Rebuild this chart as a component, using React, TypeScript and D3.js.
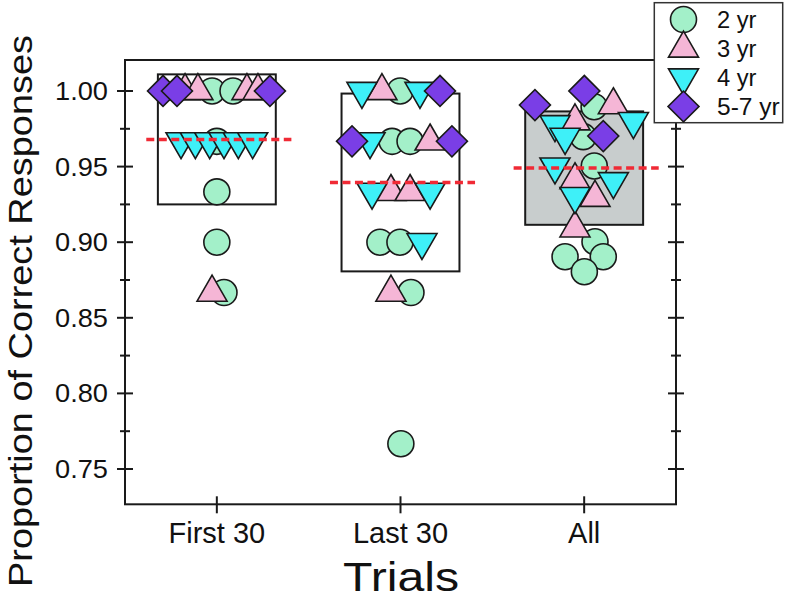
import React from "react";
import * as d3 from "d3";

const categories = ["First 30", "Last 30", "All"];
const boxMeans = [0.968, 0.9395, 0.949];
const boxSds = [0.043, 0.0588, 0.0375];

const yMajorTicks = [0.75, 0.8, 0.85, 0.9, 0.95, 1.0];
const yMinorTicks = [0.775, 0.825, 0.875, 0.925, 0.975];

const seriesNames = ["2 yr", "3 yr", "4 yr", "5-7 yr"];

// [x position on the category axis (1 = First 30, 2 = Last 30, 3 = All, with jitter), proportion]
const twoYr: [number, number][] = [
  [0.974, 1.0], [1.088, 1.0], [1.0, 0.9667], [1.0, 0.9333], [1.0, 0.9], [1.039, 0.8667],
  [1.998, 1.0], [1.954, 0.9667], [2.052, 0.9667], [1.888, 0.9], [1.997, 0.9], [2.057, 0.8667], [2.002, 0.7667],
  [3.054, 0.9896], [2.995, 0.9698], [3.055, 0.9504], [3.059, 0.9003], [2.896, 0.8904], [3.104, 0.8904], [3.001, 0.8805],
];
const threeYr: [number, number][] = [
  [0.827, 1.0], [0.897, 1.0], [1.164, 1.0], [1.224, 1.0], [0.974, 0.8667],
  [1.899, 1.0], [2.161, 0.9667], [1.948, 0.9333], [2.052, 0.9333], [1.948, 0.8667],
  [3.159, 0.9907], [2.95, 0.98], [2.95, 0.9411], [3.059, 0.9294], [2.95, 0.9092],
];
const fourYr: [number, number][] = [
  [0.805, 0.9667], [0.883, 0.9667], [0.961, 0.9667], [1.039, 0.9667], [1.117, 0.9667], [1.195, 0.9667],
  [1.79, 1.0], [2.106, 1.0], [1.834, 0.9667], [1.845, 0.9333], [2.161, 0.9333], [2.117, 0.9],
  [2.841, 0.978], [2.896, 0.9696], [3.268, 0.98], [2.841, 0.95], [3.159, 0.9403], [2.95, 0.9304],
];
const fiveSevenYr: [number, number][] = [
  [0.707, 1.0], [0.783, 1.0], [1.289, 1.0],
  [2.215, 1.0], [1.736, 0.9667], [2.28, 0.9667],
  [2.732, 0.9907], [3.001, 1.0], [3.104, 0.9702],
];

const W = 787;
const H = 598;
const left = 125, right = 676, top = 60, bottom = 504.3;

const x = d3.scaleLinear().domain([0.5, 3.5]).range([left, right]);
const y = d3.scaleLinear().domain([0.72665, 1.0205]).range([bottom, top]);

const STROKE = "#1a1a1a";
const colors = ["#a3f0c9", "#f5b6d6", "#3ef0f8", "#7a3ee6"];

const circlePath = d3.symbol().type(d3.symbolCircle).size(Math.PI * 13 * 13)()!;
const triPath = d3.symbol().type(d3.symbolTriangle).size(390)()!;
const squarePath = d3.symbol().type(d3.symbolSquare).size(480)()!;

function Marker({ kind, cx, cy }: { kind: number; cx: number; cy: number }) {
  const common = { fill: colors[kind], stroke: STROKE, strokeWidth: 1.6 };
  if (kind === 0) return <path d={circlePath} transform={`translate(${cx},${cy})`} {...common} />;
  if (kind === 1) return <path d={triPath} transform={`translate(${cx},${cy})`} {...common} />;
  if (kind === 2) return <path d={triPath} transform={`translate(${cx},${cy}) rotate(180)`} {...common} />;
  return <path d={squarePath} transform={`translate(${cx},${cy}) rotate(45)`} {...common} />;
}

const FONT = "'Liberation Sans', Arial, Helvetica, sans-serif";

export default function App() {
  const series = [twoYr, threeYr, fourYr, fiveSevenYr];
  const boxHalf = 0.321;
  const dashHalf = 0.395;
  return (
    <svg width={W} height={H} style={{ position: "absolute", left: 0, top: 0, background: "#fff" }} fontFamily={FONT}>
      <rect x={0} y={0} width={W} height={H} fill="#fff" />
      {/* boxes: mean ± SD */}
      {categories.map((c, i) => (
        <rect
          key={"box" + c}
          x={x(i + 1 - boxHalf)}
          y={y(boxMeans[i] + boxSds[i])}
          width={x(i + 1 + boxHalf) - x(i + 1 - boxHalf)}
          height={y(boxMeans[i] - boxSds[i]) - y(boxMeans[i] + boxSds[i])}
          fill={i === 2 ? "#c8cdcd" : "none"}
          stroke={STROKE}
          strokeWidth={2}
        />
      ))}
      {/* points */}
      {series.map((pts, k) =>
        pts.map((p, j) => <Marker key={`m${k}-${j}`} kind={k} cx={x(p[0])} cy={y(p[1])} />)
      )}
      {/* mean lines */}
      {categories.map((c, i) => (
        <line
          key={"mean" + c}
          x1={x(i + 1 - dashHalf) + 2}
          x2={x(i + 1 + dashHalf) + 2}
          y1={y(boxMeans[i])}
          y2={y(boxMeans[i])}
          stroke="#f02a35"
          strokeWidth={3.5}
          strokeDasharray="8 4.5"
        />
      ))}
      {/* frame */}
      <rect x={left} y={top} width={right - left} height={bottom - top} fill="none" stroke={STROKE} strokeWidth={2} />
      {/* y ticks left & right */}
      {yMajorTicks.map((t) => (
        <g key={"ymaj" + t}>
          <line x1={left - 8} x2={left + 8} y1={y(t)} y2={y(t)} stroke={STROKE} strokeWidth={2} />
          <line x1={right - 8} x2={right + 8} y1={y(t)} y2={y(t)} stroke={STROKE} strokeWidth={2} />
          <text x={108} y={y(t) + 9} textAnchor="end" fontSize={25} textLength={53} lengthAdjust="spacingAndGlyphs" fill="#111">
            {t.toFixed(2)}
          </text>
        </g>
      ))}
      {yMinorTicks.map((t) => (
        <g key={"ymin" + t}>
          <line x1={left - 5} x2={left + 5} y1={y(t)} y2={y(t)} stroke={STROKE} strokeWidth={2} />
          <line x1={right - 5} x2={right + 5} y1={y(t)} y2={y(t)} stroke={STROKE} strokeWidth={2} />
        </g>
      ))}
      {/* x ticks */}
      {categories.map((c, i) => (
        <g key={"xt" + c}>
          <line x1={x(i + 1)} x2={x(i + 1)} y1={bottom - 8} y2={bottom + 9} stroke={STROKE} strokeWidth={2} />
          <text x={x(i + 1)} y={542.7} textAnchor="middle" fontSize={29} fill="#111">
            {c}
          </text>
        </g>
      ))}
      {/* axis titles */}
      <text x={401} y={591} textAnchor="middle" fontSize={40} textLength={116} lengthAdjust="spacingAndGlyphs" fill="#111">
        Trials
      </text>
      <text
        transform={`translate(31.5,311) rotate(-90)`}
        textAnchor="middle"
        fontSize={33}
        textLength={552}
        lengthAdjust="spacingAndGlyphs"
        fill="#111"
      >
        Proportion of Correct Responses
      </text>
      {/* legend */}
      <rect x={654.3} y={2.7} width={128.4} height={120} fill="#fff" stroke="#333" strokeWidth={1.5} />
      {seriesNames.map((s, k) => {
        const cy = 19.5 + k * 29;
        return (
          <g key={"leg" + s}>
            <Marker kind={k} cx={683.5} cy={cy} />
            <text x={717} y={cy + 8.5} fontSize={23} textLength={s.length > 4 ? 62.7 : 39.5} lengthAdjust="spacingAndGlyphs" fill="#111">
              {s}
            </text>
          </g>
        );
      })}
    </svg>
  );
}
